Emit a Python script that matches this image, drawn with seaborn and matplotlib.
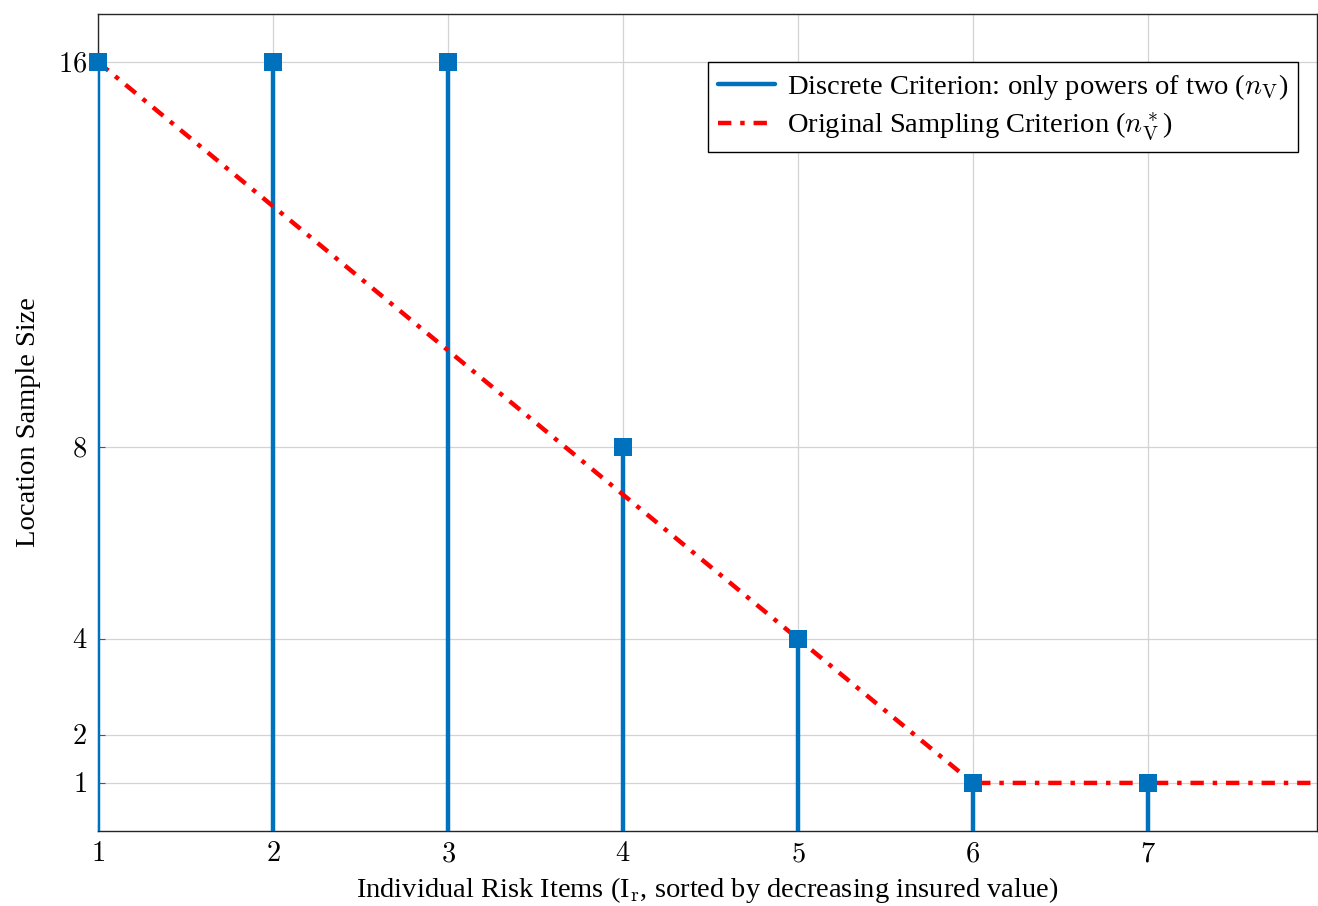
import numpy as np
import pandas as pd
import matplotlib
matplotlib.use('Agg')
import matplotlib.pyplot as plt
import seaborn as sns
from matplotlib.lines import Line2D

# data
items = [1, 2, 3, 4, 5, 6, 7]
discrete_n = [16, 16, 16, 8, 4, 1, 1]
orig_items = [1, 2, 3, 4, 5, 6, 7, 8]
orig_n = [16, 13, 10, 7, 4, 1, 1, 1]
y_ticks = [1, 2, 4, 8, 16]

BLUE = '#0072BD'
RED = '#FF0000'
FS = 20.5


def main():
    sns.set_theme(style='white')
    plt.rcParams['font.family'] = ['Liberation Serif', 'DejaVu Serif']
    plt.rcParams['mathtext.fontset'] = 'cm'
    plt.rcParams['text.color'] = 'black'
    plt.rcParams['axes.labelcolor'] = 'black'

    disc = pd.DataFrame({'item': items, 'n': discrete_n})
    orig = pd.DataFrame({'item': orig_items, 'n': orig_n})

    fig = plt.figure(figsize=(13.18, 9.06), dpi=100)
    ax = fig.add_axes([0.0744, 0.0828, 0.9248, 0.9017])

    ax.grid(True, color='#d3d3d3', linewidth=0.9, zorder=0)
    ax.set_axisbelow(True)

    ax.vlines(disc['item'], 0, disc['n'], color=BLUE, linewidth=3.2, zorder=3)
    sns.lineplot(data=orig, x='item', y='n', ax=ax, color=RED, linewidth=3.2,
                 linestyle=(0, (3, 2, 1, 2)), zorder=4, legend=False)
    sns.scatterplot(data=disc, x='item', y='n', ax=ax, color=BLUE, marker='s',
                    s=150, edgecolor=BLUE, linewidth=0, zorder=5, legend=False,
                    clip_on=False)

    ax.set_xlim(1, 7.966)
    ax.set_ylim(0, 17)
    ax.set_xticks(items)
    ax.set_xticklabels([f'${v}$' for v in items])
    ax.set_yticks(y_ticks)
    ax.set_yticklabels([f'${v}$' for v in y_ticks])
    ax.tick_params(direction='in', length=5, width=0.8, colors='#555555',
                   labelcolor='black', labelsize=FS, pad=8,
                   bottom=True, left=True)
    for sp in ax.spines.values():
        sp.set_color('#262626')
        sp.set_linewidth(1.0)

    ax.set_xlabel(r'Individual Risk Items (I$_{\rm r}$, sorted by decreasing insured value)',
                  fontsize=FS, labelpad=6)
    ax.set_ylabel('Location Sample Size', fontsize=FS, labelpad=12)

    handles = [
        Line2D([0], [0], color=BLUE, linewidth=3.2),
        Line2D([0], [0], color=RED, linewidth=3.2, linestyle=(0, (3, 2, 1, 2))),
    ]
    labels = [r'Discrete Criterion: only powers of two ($n_{\rm V}$)',
              r'Original Sampling Criterion ($n^*_{\rm V}$)']
    leg = ax.legend(handles, labels, loc='upper right',
                    bbox_to_anchor=(0.9844, 0.9412), fontsize=FS,
                    frameon=True, fancybox=False, framealpha=1,
                    edgecolor='black', borderaxespad=0, handlelength=2.0,
                    handletextpad=0.4, borderpad=0.35, labelspacing=0.3)
    leg.get_frame().set_linewidth(1.0)

    plt.savefig('out.png', dpi=100)
    plt.close()


if __name__ == '__main__':
    main()
